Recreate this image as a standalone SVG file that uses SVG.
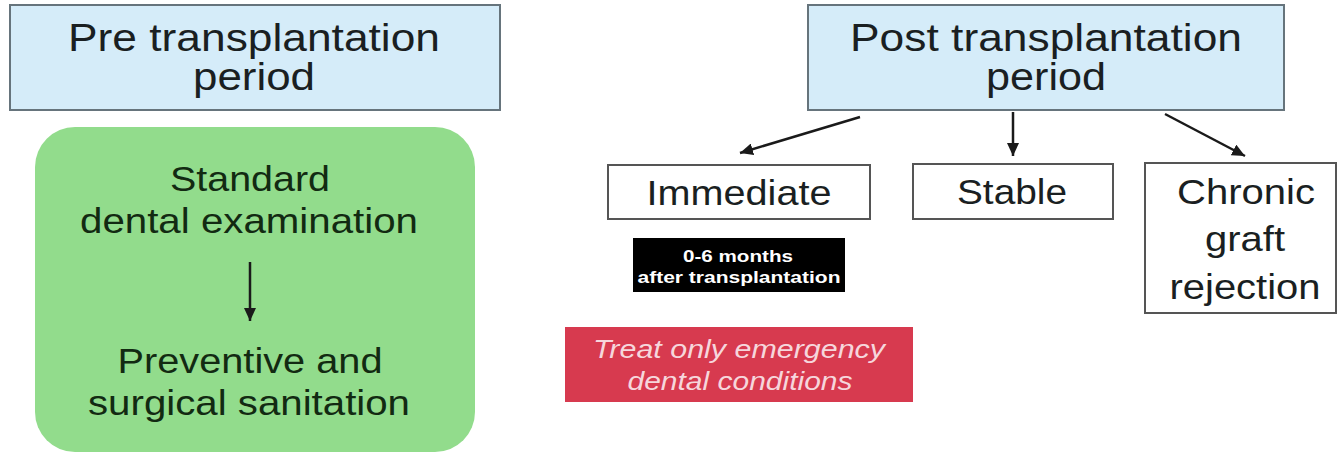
<svg xmlns="http://www.w3.org/2000/svg" width="1338" height="453" viewBox="0 0 1338 453">
<defs>
<marker id="ah" markerUnits="userSpaceOnUse" markerWidth="14" markerHeight="12" refX="13" refY="6" orient="auto">
<path d="M0,0 L13,6 L0,12 Z" fill="#1a1a1a"/>
</marker>
<style>
.hdr{fill:#d5ecf9;stroke:#66747c;stroke-width:2}
.wbox{fill:#ffffff;stroke:#555;stroke-width:2}
.t{font-family:"Liberation Sans",Arial,sans-serif;fill:#1a1f22;text-anchor:middle}
.h{font-size:38px}
.m{font-size:35px}
.g{font-size:35px;fill:#122a12}
.blk{font-size:17px;font-weight:bold;fill:#ffffff}
.red{font-size:26px;font-style:italic;fill:#f6d6dc}
.conn{stroke:#1a1a1a;stroke-width:2.5;fill:none;marker-end:url(#ah)}
</style>
</defs>
<rect width="1338" height="453" fill="#ffffff"/>
<g id="pre">
<rect class="hdr" x="10" y="5" width="490" height="105"/>
<text class="t h" x="254" y="51" textLength="372" lengthAdjust="spacingAndGlyphs">Pre transplantation</text>
<text class="t h" x="254" y="90" textLength="122" lengthAdjust="spacingAndGlyphs">period</text>
</g>
<g id="pre-steps">
<rect x="35" y="127" width="440" height="325" rx="40" ry="40" fill="#92dc8c"/>
<text class="t g" x="250" y="191" textLength="160" lengthAdjust="spacingAndGlyphs">Standard</text>
<text class="t g" x="249" y="233" textLength="338" lengthAdjust="spacingAndGlyphs">dental examination</text>
<text class="t g" x="250" y="373" textLength="265" lengthAdjust="spacingAndGlyphs">Preventive and</text>
<text class="t g" x="249" y="415" textLength="322" lengthAdjust="spacingAndGlyphs">surgical sanitation</text>
</g>
<g id="post">
<rect class="hdr" x="808" y="5" width="476" height="105"/>
<text class="t h" x="1046" y="51" textLength="392" lengthAdjust="spacingAndGlyphs">Post transplantation</text>
<text class="t h" x="1046" y="90" textLength="120" lengthAdjust="spacingAndGlyphs">period</text>
</g>
<g id="immediate">
<rect class="wbox" x="608" y="165" width="262" height="54"/>
<text class="t m" x="739" y="205" textLength="185" lengthAdjust="spacingAndGlyphs">Immediate</text>
</g>
<g id="stable">
<rect class="wbox" x="913" y="164" width="200" height="55"/>
<text class="t m" x="1012" y="204" textLength="110" lengthAdjust="spacingAndGlyphs">Stable</text>
</g>
<g id="chronic">
<rect class="wbox" x="1145" y="163" width="191" height="150"/>
<text class="t m" x="1246" y="204" textLength="138" lengthAdjust="spacingAndGlyphs">Chronic</text>
<text class="t m" x="1245" y="251" textLength="80" lengthAdjust="spacingAndGlyphs">graft</text>
<text class="t m" x="1245" y="299" textLength="151" lengthAdjust="spacingAndGlyphs">rejection</text>
</g>
<g id="months">
<rect x="633" y="238" width="212" height="54" fill="#000000"/>
<text class="t blk" x="738" y="262" textLength="110" lengthAdjust="spacingAndGlyphs">0-6 months</text>
<text class="t blk" x="739" y="283" textLength="203" lengthAdjust="spacingAndGlyphs">after transplantation</text>
</g>
<g id="emergency">
<rect x="565" y="327" width="348" height="75" fill="#d73a4f"/>
<text class="t red" x="739" y="358" textLength="292" lengthAdjust="spacingAndGlyphs">Treat only emergency</text>
<text class="t red" x="740" y="390" textLength="225" lengthAdjust="spacingAndGlyphs">dental conditions</text>
</g>
<g id="connectors">
<line class="conn" x1="250" y1="262" x2="250" y2="321"/>
<line class="conn" x1="860" y1="117" x2="740" y2="153"/>
<line class="conn" x1="1013" y1="112" x2="1013" y2="156"/>
<line class="conn" x1="1165" y1="114" x2="1245" y2="156"/>
</g>
</svg>
